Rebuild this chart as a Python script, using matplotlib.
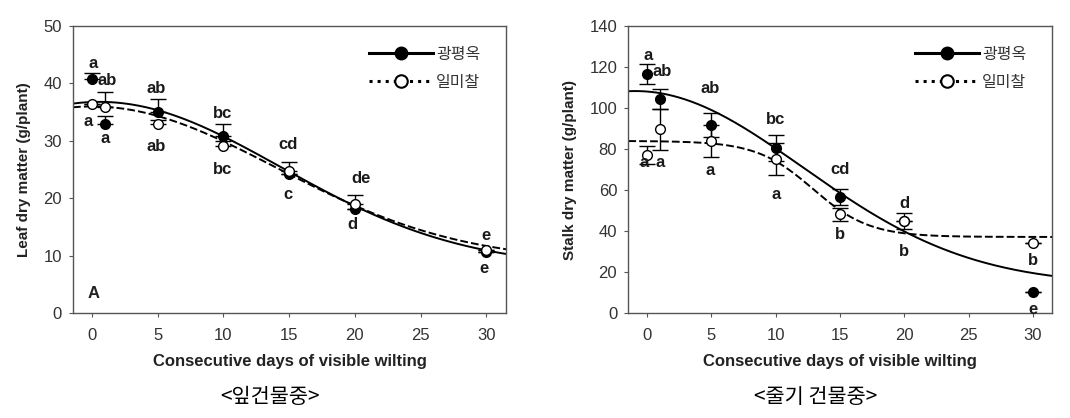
import numpy as np
import matplotlib
matplotlib.use("Agg")
import matplotlib.pyplot as plt
from matplotlib.lines import Line2D

plt.rcParams['font.family'] = ['Liberation Sans', 'Noto Sans CJK KR', 'DejaVu Sans']

# 데이터 (평균, 표준오차)
days = [0, 1, 5, 10, 15, 20, 30]
cultivars = ['광평옥', '일미찰']

leaf_kpo = [40.8, 32.9, 35.1, 30.9, 24.3, 18.2, 10.7]
leaf_kpo_err = [1.1, 1.5, 2.2, 2.0, 0.0, 0.0, 0.0]
leaf_ilm = [36.5, 35.9, 32.9, 29.1, 24.8, 19.1, 11.1]
leaf_ilm_err = [0.0, 2.7, 0.8, 0.8, 1.6, 1.5, 0.0]

stalk_kpo = [116.6, 104.4, 91.8, 80.4, 56.5, 44.8, 10.5]
stalk_kpo_err = [5.0, 4.8, 5.7, 6.3, 3.9, 0.0, 0.0]
stalk_ilm = [77.1, 89.7, 84.0, 75.2, 48.2, 45.0, 34.4]
stalk_ilm_err = [4.5, 10.0, 7.7, 7.8, 3.1, 3.7, 0.0]

# 회귀곡선 파라미터 (model, y0, a, x0, b)
leaf_kpo_fit = ('gauss', 8.0, 28.8, 0.55, 13.8)
leaf_ilm_fit = ('gauss', 9.0, 27.0, 0.0, 14.0)
stalk_kpo_fit = ('gauss', 14.0, 94.3, -0.9, 13.0)
stalk_ilm_fit = ('sigmoid', 37.2, 46.8, 12.9, 2.2)

# 유의성 문자
leaf_letters = ['a', 'ab', 'a', 'a', 'ab', 'ab', 'bc', 'bc', 'cd', 'c', 'de', 'd', 'e', 'e']
stalk_letters = ['a', 'ab', 'ab', 'bc', 'cd', 'd', 'e', 'a', 'a', 'a', 'a', 'b', 'b', 'b']

# 문자 위치 (layout)
leaf_letter_pos = [(0.05, 43.5), (1.15, 40.6), (-0.3, 33.3), (1.0, 30.5), (4.9, 39.2), (4.9, 29.1),
                   (9.9, 34.8), (9.9, 25.1), (14.9, 29.3), (14.9, 20.6), (20.5, 23.5), (19.8, 15.4),
                   (30.0, 13.6), (29.8, 7.8)]
stalk_letter_pos = [(0.1, 125.4), (1.15, 117.7), (4.95, 109.6), (10.0, 94.2), (15.0, 70.2), (20.0, 53.6),
                    (30.0, 1.9), (-0.25, 73.4), (1.05, 73.4), (4.9, 69.8), (10.05, 57.7), (15.0, 38.2),
                    (20.0, 30.0), (30.0, 25.5)]


def fit_curve(x, p):
    model, y0, a, x0, b = p
    if model == 'gauss':
        return y0 + a * np.exp(-0.5 * ((x - x0) / b) ** 2)
    return y0 + a / (1 + np.exp((x - x0) / b))


def draw_panel(ax, kpo, kpo_err, ilm, ilm_err, kpo_fit, ilm_fit, ymax, ystep, ylabel, letters, letter_pos,
               up_only=False):
    xs = np.linspace(-1.45, 31.5, 300)
    ax.plot(xs, fit_curve(xs, kpo_fit), color='black', lw=1.4, zorder=2)
    ax.plot(xs, fit_curve(xs, ilm_fit), color='black', lw=1.4, dashes=(4, 1.6), zorder=2)
    if up_only:
        kpo_err = [np.zeros(len(kpo_err)), kpo_err]
        ilm_err = [np.zeros(len(ilm_err)), ilm_err]
    ax.errorbar(days, kpo, yerr=kpo_err, fmt='o', color='black', mfc='black', mec='black', ms=7,
                elinewidth=1, capsize=6, capthick=1, zorder=3)
    ax.errorbar(days, ilm, yerr=ilm_err, fmt='o', color='black', mfc='white', mec='black', ms=7,
                mew=1, elinewidth=1, capsize=6, capthick=1, zorder=4)
    for t, (x, y) in zip(letters, letter_pos):
        ax.text(x, y, t, ha='center', va='center', fontsize=12, fontweight='bold', color='#1a1a1a', zorder=5)

    ax.set_xlim(-1.45, 31.5)
    ax.set_ylim(0, ymax)
    ax.set_xticks(range(0, 31, 5))
    ax.set_yticks(range(0, ymax + 1, ystep))
    ax.tick_params(direction='out', length=3, width=0.8, colors='#555555', labelcolor='#333333',
                   labelsize=12, top=False, right=False)
    ax.tick_params(axis='x', pad=7.5)
    ax.tick_params(axis='y', pad=5)
    for s in ax.spines.values():
        s.set_color('#555555')
        s.set_linewidth(1)
    ax.set_xlabel('Consecutive days of visible wilting', fontsize=12, fontweight='bold', color='#222222')
    ax.set_ylabel(ylabel, fontsize=11, fontweight='bold', color='#222222')
    ax.xaxis.set_label_coords(0.5, -0.142)

    handles = [Line2D([], [], color='black', lw=2.2, marker='o', ms=9, mfc='black', mec='black'),
               Line2D([], [], color='black', lw=2.2, ls=':', marker='o', ms=9, mfc='white', mec='black', mew=1.5)]
    ax.legend(handles, cultivars, loc='upper right', bbox_to_anchor=(0.988, 1.0), frameon=False,
              fontsize=11.5, handlelength=4.0, handletextpad=0.2, labelspacing=0.8, borderaxespad=0.9,
              labelcolor='#333333')


fig = plt.figure(figsize=(10.7, 4.18), dpi=100)
ax1 = fig.add_axes([73 / 1070, 1 - 313.3 / 418, 433 / 1070, 287.3 / 418])
ax2 = fig.add_axes([628.3 / 1070, 1 - 313.3 / 418, 424 / 1070, 287.3 / 418])

draw_panel(ax1, leaf_kpo, leaf_kpo_err, leaf_ilm, leaf_ilm_err, leaf_kpo_fit, leaf_ilm_fit,
           50, 10, 'Leaf dry matter (g/plant)', leaf_letters, leaf_letter_pos, up_only=True)
draw_panel(ax2, stalk_kpo, stalk_kpo_err, stalk_ilm, stalk_ilm_err, stalk_kpo_fit, stalk_ilm_fit,
           140, 20, 'Stalk dry matter (g/plant)', stalk_letters, stalk_letter_pos)

ax1.yaxis.set_label_coords(-0.098, 0.5)
ax2.yaxis.set_label_coords(-0.121, 0.5)
ax1.text(0.13, 3.5, 'A', ha='center', va='center', fontsize=12, fontweight='bold', color='#222222')

fig.text(270 / 1070, 1 - 396.7 / 418, '<잎건물중>', ha='center', va='center', fontsize=15,
         family=['Noto Sans CJK KR'])
fig.text(816 / 1070, 1 - 396.7 / 418, '<줄기 건물중>', ha='center', va='center', fontsize=15,
         family=['Noto Sans CJK KR'])

fig.savefig('out.png', dpi=100)
